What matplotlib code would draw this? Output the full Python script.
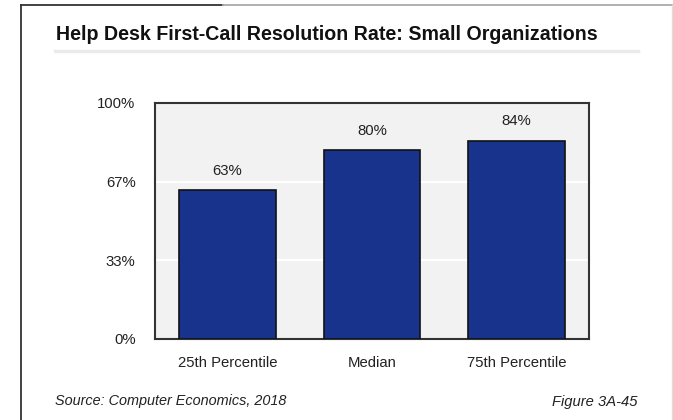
"""
Help Desk First-Call Resolution Rate: Small Organizations
bar chart
"""

import matplotlib
matplotlib.use('Agg')
from matplotlib import pyplot as plt
from matplotlib.lines import Line2D

categories = ['25th Percentile', 'Median', '75th Percentile']
rates = [63, 80, 84]
ytick_values = [0, 100 / 3, 200 / 3, 100]
ytick_labels = ['0%', '33%', '67%', '100%']

plt.rcParams['font.family'] = ['Liberation Sans', 'DejaVu Sans']

W, H = 673, 420


def fx(px):
    return px / W


def fy(py):
    return 1 - py / H


fig = plt.figure(figsize=(W / 100, H / 100), dpi=100)
fig.patch.set_facecolor('white')

ax = fig.add_axes([fx(155), fy(339), fx(589) - fx(155), fy(103) - fy(339)])
ax.set_facecolor('#f2f2f2')

x = range(len(categories))
bars = ax.bar(x, rates, width=0.67, color='#17338c', edgecolor='#111111',
              linewidth=1.2, zorder=3)

ax.set_xlim(-0.5, 2.5)
ax.set_ylim(0, 100)
ax.set_yticks(ytick_values)
ax.set_yticklabels(ytick_labels)
ax.set_xticks(list(x))
ax.set_xticklabels(categories)
ax.tick_params(axis='both', length=0, labelsize=10.7, colors='#222222')
ax.tick_params(axis='y', pad=14)
ax.tick_params(axis='x', pad=12)

# white gridlines
for v in ytick_values[1:3]:
    ax.axhline(v, color='white', linewidth=1.6, zorder=1)

for s in ax.spines.values():
    s.set_color('#333333')
    s.set_linewidth(1.5)

# data labels
for b, v in zip(bars, rates):
    ax.annotate(f'{v}%', (b.get_x() + b.get_width() / 2, b.get_height()),
                xytext=(0, 9), textcoords='offset points',
                ha='center', va='bottom', fontsize=10.7, color='#222222')

# title + underline
fig.text(fx(56), fy(34), 'Help Desk First-Call Resolution Rate: Small Organizations',
         fontsize=14.1, fontweight='bold', color='#111111', va='center', ha='left')
fig.add_artist(Line2D([fx(55), fx(638)], [fy(51), fy(51)], color='#ebebeb',
                      linewidth=2.5))

# footer
fig.text(fx(55), fy(401), 'Source: Computer Economics, 2018', fontsize=10.4,
         style='italic', color='#222222', va='center', ha='left')
fig.text(fx(638), fy(402), 'Figure 3A-45', fontsize=10.6,
         style='italic', color='#222222', va='center', ha='right')

# page frame
fig.add_artist(Line2D([fx(21), fx(21)], [fy(5), 0], color='#333333', linewidth=1.3))
fig.add_artist(Line2D([fx(21), fx(223)], [fy(5), fy(5)], color='#333333', linewidth=1.3))
fig.add_artist(Line2D([fx(223), 1], [fy(5), fy(5)], color='#aaaaaa', linewidth=1.3))
fig.add_artist(Line2D([fx(672), fx(672)], [fy(5), 0], color='#dddddd', linewidth=1))

fig.savefig('out.png', dpi=100)
